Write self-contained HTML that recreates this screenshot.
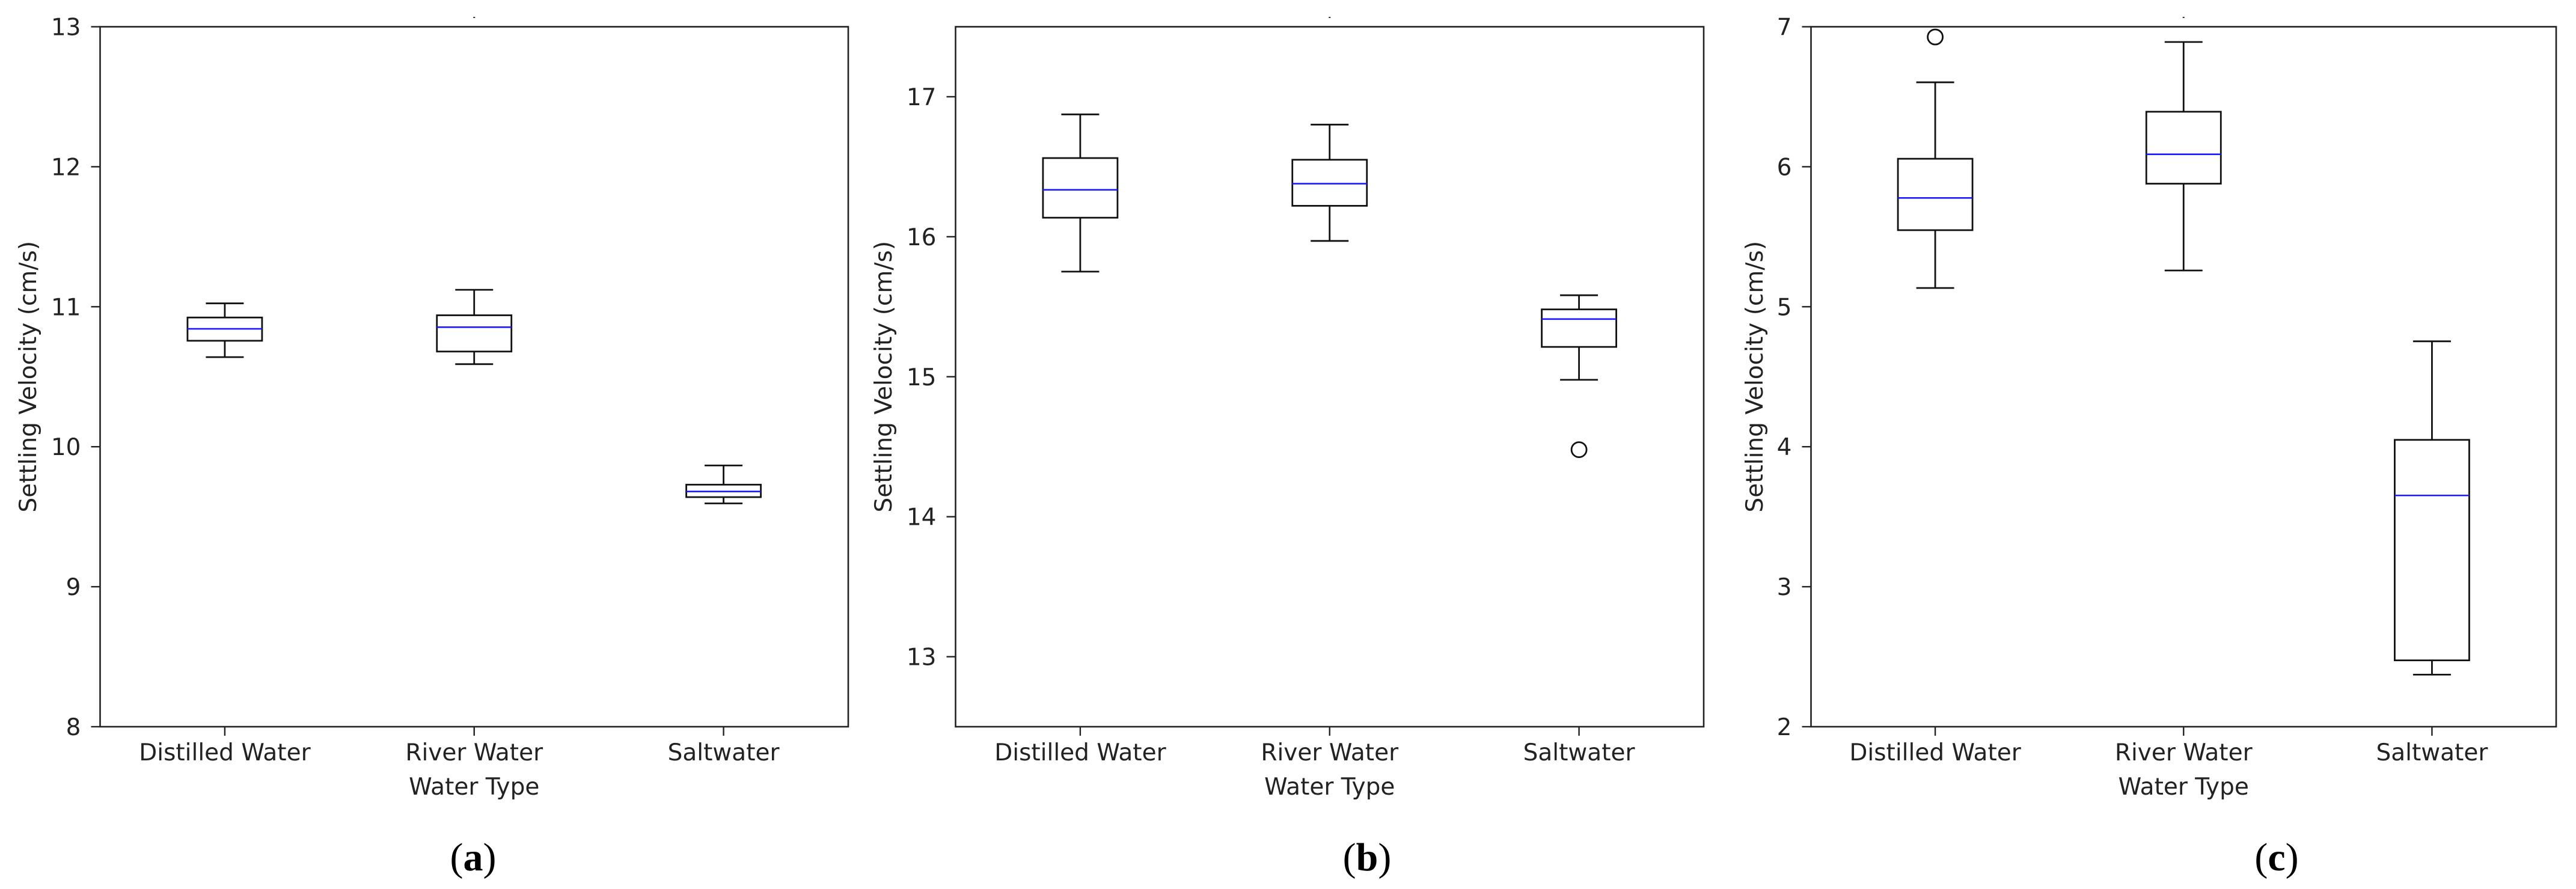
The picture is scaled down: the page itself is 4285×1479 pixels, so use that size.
<!DOCTYPE html>
<html><head><meta charset="utf-8"><style>
html,body{margin:0;padding:0;background:#fff;}
svg{display:block;}
text{font-family:"DejaVu Sans","Liberation Sans",sans-serif;fill:#222;}
.cap{font-family:"Liberation Serif",serif;fill:#000;}
</style></head><body>
<svg id="fig" width="4285" height="1479" viewBox="0 0 4285 1479" xmlns="http://www.w3.org/2000/svg"></svg>
<script>
const categories = ["Distilled Water", "River Water", "Saltwater"];
// panel a
const aWhiskerLow = [10.64, 10.59, 9.595];
const aQ1 = [10.757, 10.68, 9.64];
const aMedian = [10.842, 10.854, 9.68];
const aQ3 = [10.923, 10.939, 9.729];
const aWhiskerHigh = [11.024, 11.121, 9.866];
const aOutliers = [[], [], []];
const aTicks = [8, 9, 10, 11, 12, 13];
// panel b
const bWhiskerLow = [15.751, 15.97, 14.978];
const bQ1 = [16.136, 16.221, 15.213];
const bMedian = [16.335, 16.379, 15.412];
const bQ3 = [16.562, 16.55, 15.481];
const bWhiskerHigh = [16.874, 16.801, 15.582];
const bOutliers = [[], [], [14.479]];
const bTicks = [13, 14, 15, 16, 17];
// panel c
const cWhiskerLow = [5.134, 5.259, 2.372];
const cQ1 = [5.547, 5.879, 2.474];
const cMedian = [5.777, 6.089, 3.652];
const cQ3 = [6.057, 6.393, 4.049];
const cWhiskerHigh = [6.603, 6.891, 4.753];
const cOutliers = [[6.927], [], []];
const cTicks = [2, 3, 4, 5, 6, 7];

const NS = "http://www.w3.org/2000/svg";
const svg = document.getElementById("fig");
function mk(tag, attrs, parent) {
  const e = document.createElementNS(NS, tag);
  for (const k in attrs) e.setAttribute(k, attrs[k]);
  (parent || svg).appendChild(e);
  return e;
}

const panels = [
  {id:"a", left:166.5, right:1411, ymin:8, ymax:13, lo:aWhiskerLow, q1:aQ1, med:aMedian, q3:aQ3, hi:aWhiskerHigh, out:aOutliers, ticks:aTicks, ylab:46, capx:787},
  {id:"b", left:1589.5, right:2834, ymin:12.5, ymax:17.5, lo:bWhiskerLow, q1:bQ1, med:bMedian, q3:bQ3, hi:bWhiskerHigh, out:bOutliers, ticks:bTicks, ylab:1469, capx:2274},
  {id:"c", left:3012.5, right:4252, ymin:2, ymax:7, lo:cWhiskerLow, q1:cQ1, med:cMedian, q3:cQ3, hi:cWhiskerHigh, out:cOutliers, ticks:cTicks, ylab:2918, capx:3787}
];
const TOP = 44.5, BOTTOM = 1209;
const FS = 39;

panels.forEach(p => {
  const g = mk("g", {});
  
  
  const y = v => BOTTOM - (v - p.ymin) / (p.ymax - p.ymin) * (BOTTOM - TOP);
  const w = p.right - p.left;
  const x = i => p.left + w * (2 * i + 1) / (2 * categories.length);
  const dot = mk("rect", {x:(p.left+p.right)/2 - 1.5, y:28, width:3, height:2, fill:"#333"}, g);
  
  
  const fr = mk("rect", {x:p.left, y:TOP, width:w, height:BOTTOM-TOP, fill:"none", stroke:"#222", "stroke-width":2.6}, g);
  
  
  p.ticks.forEach(t => {
    const ty = y(t);
    const tk = mk("line", {x1:p.left-15, x2:p.left, y1:ty, y2:ty, stroke:"#222", "stroke-width":2.4}, g);
    
    
    const tl = mk("text", {x:p.left-32, y:ty+14, "text-anchor":"end", "font-size":FS}, g);
    tl.textContent = t;
    
    
  });
  const yl = mk("text", {x:p.ylab, y:(TOP+BOTTOM)/2, "text-anchor":"middle", "font-size":FS, transform:`rotate(-90 ${p.ylab} ${(TOP+BOTTOM)/2})`, dy:14}, g);
  yl.textContent = "Settling Velocity (cm/s)";
  
  
  categories.forEach((c, i) => {
    const cx = x(i);
    const tk = mk("line", {x1:cx, x2:cx, y1:BOTTOM, y2:BOTTOM+15, stroke:"#222", "stroke-width":2.4}, g);
    
    
    const tl = mk("text", {x:cx, y:1265, "text-anchor":"middle", "font-size":FS}, g);
    tl.textContent = c;
    
    
    const bg = mk("g", {}, g);
    
    
    const bw = 124, cw = 63, sw = 2.8;
    mk("line", {x1:cx, x2:cx, y1:y(p.hi[i]), y2:y(p.q3[i]), stroke:"#111", "stroke-width":sw}, bg);
    mk("line", {x1:cx, x2:cx, y1:y(p.q1[i]), y2:y(p.lo[i]), stroke:"#111", "stroke-width":sw}, bg);
    mk("line", {x1:cx-cw/2, x2:cx+cw/2, y1:y(p.hi[i]), y2:y(p.hi[i]), stroke:"#111", "stroke-width":sw}, bg);
    mk("line", {x1:cx-cw/2, x2:cx+cw/2, y1:y(p.lo[i]), y2:y(p.lo[i]), stroke:"#111", "stroke-width":sw}, bg);
    mk("rect", {x:cx-bw/2, y:y(p.q3[i]), width:bw, height:y(p.q1[i])-y(p.q3[i]), fill:"none", stroke:"#111", "stroke-width":sw}, bg);
    mk("line", {x1:cx-bw/2, x2:cx+bw/2, y1:y(p.med[i]), y2:y(p.med[i]), stroke:"#1a1aff", "stroke-width":2.6}, bg);
    p.out[i].forEach(o => {
      const oc = mk("circle", {cx:cx, cy:y(o), r:12.5, fill:"none", stroke:"#111", "stroke-width":2.8}, bg);
      
      
    });
  });
  const xl = mk("text", {x:x(1), y:1322, "text-anchor":"middle", "font-size":FS}, g);
  xl.textContent = "Water Type";
  
  
  const cap = mk("text", {x:p.capx, y:1448, "text-anchor":"middle", "font-size":66, class:"cap"}, g);
  cap.innerHTML = '(<tspan font-weight="bold">' + p.id + '</tspan>)';
  
  
});
</script>
</body></html>
